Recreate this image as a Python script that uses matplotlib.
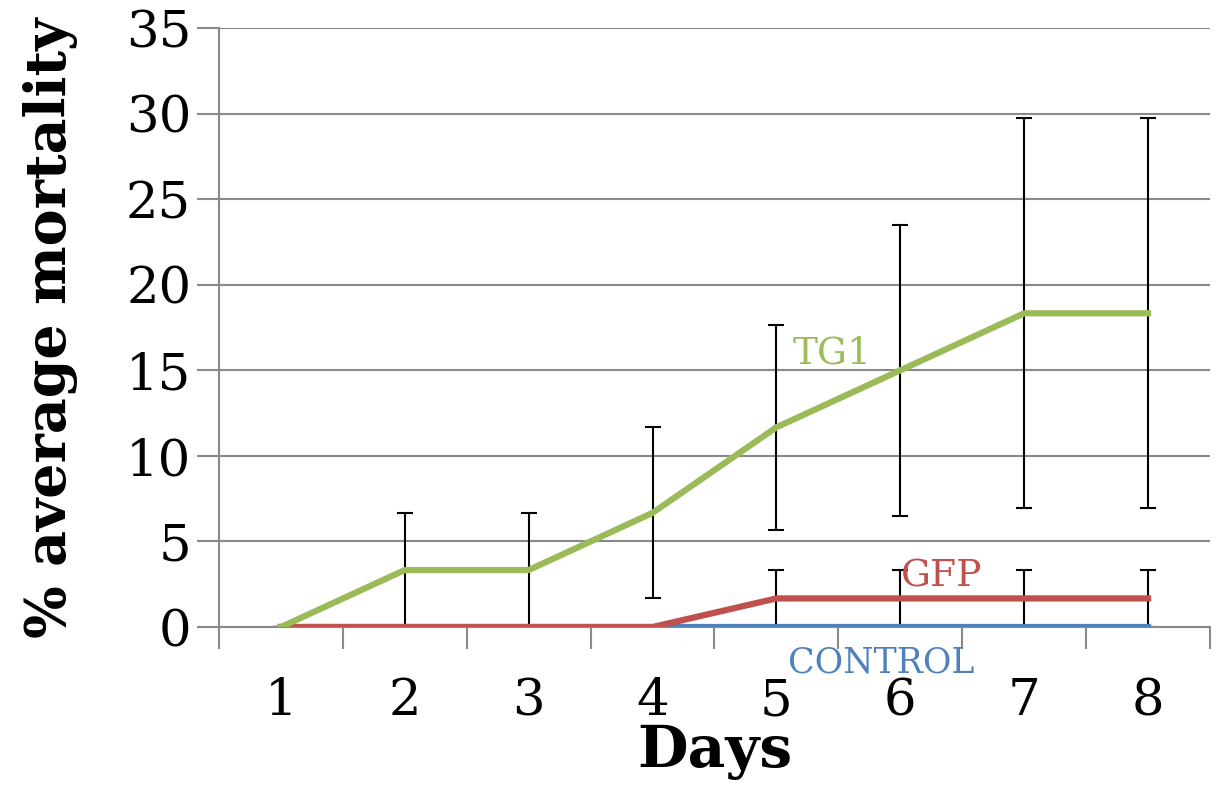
import numpy as np
import matplotlib.pyplot as plt

plt.rcParams['font.family'] = ['DejaVu Serif']

# mortality per day (%)
days = [1, 2, 3, 4, 5, 6, 7, 8]
tg1 = [0, 3.33, 3.33, 6.67, 11.67, 15.0, 18.33, 18.33]
tg1_err = [0, 3.33, 3.33, 5.0, 6.0, 8.5, 11.4, 11.4]
gfp = [0, 0, 0, 0, 1.67, 1.67, 1.67, 1.67]
gfp_err = [0, 0, 0, 0, 1.67, 1.67, 1.67, 1.67]
control = [0, 0, 0, 0, 0, 0, 0, 0]

col_tg1 = '#9bbb59'
col_gfp = '#c0504d'
col_ctrl = '#4f81bd'

fig = plt.figure(figsize=(12.2, 7.9), dpi=100)
ax = fig.add_axes([0.1795, 0.2063, 0.8123, 0.7583])

# error bars under the lines
ax.errorbar(days, gfp, yerr=gfp_err, fmt='none', ecolor='black',
            elinewidth=1.5, capsize=6, capthick=1.5, zorder=2)
ax.errorbar(days, tg1, yerr=tg1_err, fmt='none', ecolor='black',
            elinewidth=1.5, capsize=6, capthick=1.5, zorder=2)

ax.plot(days, control, color=col_ctrl, lw=4.5, zorder=3)
ax.plot(days, gfp, color=col_gfp, lw=4.5, zorder=4)
ax.plot(days, tg1, color=col_tg1, lw=4.5, zorder=5)

ax.text(5.45, 14.9, 'TG1', color=col_tg1, fontsize=27, ha='center', va='bottom')
ax.text(6.33, 1.9, 'GFP', color=col_gfp, fontsize=27, ha='center', va='bottom')
ax.text(5.85, -2.1, 'CONTROL', color=col_ctrl, fontsize=25, ha='center', va='center',
        clip_on=False)

ax.set_xlim(0.5, 8.5)
ax.set_ylim(0, 35)
ax.set_yticks(np.arange(0, 36, 5))
ax.set_xticks(days)
ax.set_xticks(np.arange(0.5, 9, 1), minor=True)
ax.tick_params(axis='x', which='major', length=0, labelsize=37, pad=36)
ax.tick_params(axis='x', which='minor', length=16, width=1.5, color='#898989')
ax.tick_params(axis='y', length=16, width=1.5, color='#898989', labelsize=37, pad=4)
ax.grid(axis='y', color='#898989', lw=1.5, zorder=0)

for s in ['top', 'right']:
    ax.spines[s].set_visible(False)
for s in ['left', 'bottom']:
    ax.spines[s].set_color('#898989')
    ax.spines[s].set_linewidth(1.5)

ax.set_xlabel('Days', fontsize=42, fontweight='bold', labelpad=-2)
ax.set_ylabel('% average mortality', fontsize=40, fontweight='bold', labelpad=34)

fig.savefig('out.png', dpi=100)
